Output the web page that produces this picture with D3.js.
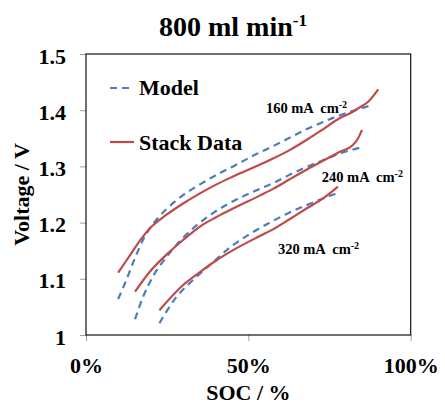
<!DOCTYPE html>
<html>
<head>
<meta charset="utf-8">
<script src="https://cdn.jsdelivr.net/npm/d3@7"></script>
<style>
  body { margin: 0; background: #fff; }
  svg text { font-family: "Liberation Serif", "Times New Roman", serif; font-weight: bold; fill: #000; }
</style>
</head>
<body>
<svg id="chart"></svg>
<script>
// Chart size
const width = 445;
const height = 405;

// SOC (%) and voltage (V)
const soc160Stack = [9.9, 12.5, 14.6, 17.1, 19.7, 24.8, 29.9, 35.1, 40.2, 45.3, 53.5, 57.6, 62.7, 67.9, 73.0, 78.2, 81.2, 84.0, 86.9, 90.0];
const v160Stack   = [1.111, 1.133, 1.151, 1.172, 1.190, 1.214, 1.234, 1.252, 1.268, 1.282, 1.303, 1.314, 1.329, 1.347, 1.366, 1.386, 1.394, 1.404, 1.415, 1.437];
const soc160Model = [9.9, 12.0, 14.6, 17.6, 20.7, 24.8, 29.9, 35.1, 40.2, 45.3, 52.5, 57.6, 62.7, 67.9, 73.0, 78.2, 83.0, 87.9];
const v160Model   = [1.064, 1.092, 1.130, 1.170, 1.198, 1.224, 1.249, 1.268, 1.285, 1.300, 1.322, 1.336, 1.351, 1.366, 1.379, 1.391, 1.400, 1.409];

const soc240Stack = [15.1, 19.7, 24.8, 29.9, 35.1, 40.2, 45.3, 53.5, 57.6, 62.7, 67.9, 73.0, 78.2, 82.2, 83.8, 85.0];
const v240Stack   = [1.077, 1.113, 1.143, 1.169, 1.193, 1.210, 1.225, 1.248, 1.260, 1.277, 1.294, 1.310, 1.326, 1.338, 1.350, 1.365];
const soc240Model = [15.1, 17.6, 20.7, 24.8, 29.9, 35.1, 40.2, 45.3, 53.5, 57.6, 62.7, 67.9, 73.0, 78.2, 84.8];
const v240Model   = [1.028, 1.068, 1.105, 1.139, 1.173, 1.200, 1.221, 1.238, 1.260, 1.270, 1.285, 1.299, 1.311, 1.323, 1.334];

const soc320Stack = [22.6, 29.9, 35.1, 40.2, 45.3, 53.5, 57.6, 62.7, 67.9, 73.0, 77.6];
const v320Stack   = [1.044, 1.089, 1.112, 1.133, 1.151, 1.176, 1.188, 1.206, 1.225, 1.243, 1.264];
const soc320Model = [22.6, 27.9, 33.0, 39.2, 45.3, 50.0, 57.6, 62.7, 67.9, 73.0, 77.6];
const v320Model   = [1.021, 1.068, 1.098, 1.130, 1.160, 1.178, 1.203, 1.218, 1.231, 1.243, 1.253];

// Axis ticks
const xTicks = [0, 50, 100];
const xTickLabels = ["0%", "50%", "100%"];
const yTicks = [1.0, 1.1, 1.2, 1.3, 1.4, 1.5];
const yTickLabels = ["1", "1.1", "1.2", "1.3", "1.4", "1.5"];

// Current density labels
const densities = ["160", "240", "320"];
const labelSoc = [55.4, 72.6, 59.1];
const labelV = [1.395, 1.272, 1.144];

const blue = "#4a7ebb";
const red = "#be4b48";
const serif = '"Liberation Serif", "Times New Roman", serif';

const svg = d3.select("#chart")
  .attr("width", width)
  .attr("height", height)
  .style("font-family", serif);

// Plot area
const x = d3.scaleLinear().domain([0, 100]).range([86, 410.7]);
const y = d3.scaleLinear().domain([1.0, 1.5]).range([335, 54]);

// Axes
const xAxis = svg.append("g")
  .attr("transform", `translate(0,${y(1.0)})`)
  .call(d3.axisBottom(x)
    .tickValues(xTicks)
    .tickFormat((d, i) => xTickLabels[i])
    .tickSize(6)
    .tickPadding(16));

const yAxis = svg.append("g")
  .attr("transform", `translate(${x(0)},0)`)
  .call(d3.axisLeft(y)
    .tickValues(yTicks)
    .tickFormat((d, i) => yTickLabels[i])
    .tickSize(6)
    .tickPadding(14));

[xAxis, yAxis].forEach(g => {
  g.attr("font-family", serif);
  g.select(".domain").remove();
  g.selectAll(".tick line").attr("stroke", "#a0a0a0");
  g.selectAll(".tick text")
    .style("font-family", serif)
    .style("font-size", "22px")
    .attr("fill", "#000");
});
yAxis.selectAll(".tick text").attr("dy", "0.41em");

// Frame
svg.append("rect")
  .attr("x", x(0))
  .attr("y", y(1.5))
  .attr("width", x(100) - x(0))
  .attr("height", y(1.0) - y(1.5))
  .attr("fill", "none")
  .attr("stroke", "#111")
  .attr("stroke-width", 1.2);

// Curves
const line = d3.line()
  .x(d => x(d[0]))
  .y(d => y(d[1]))
  .curve(d3.curveMonotoneX);

const series = [
  { soc: soc160Model, v: v160Model, model: true },
  { soc: soc240Model, v: v240Model, model: true },
  { soc: soc320Model, v: v320Model, model: true },
  { soc: soc160Stack, v: v160Stack, model: false },
  { soc: soc240Stack, v: v240Stack, model: false },
  { soc: soc320Stack, v: v320Stack, model: false }
];

svg.selectAll(".curve")
  .data(series)
  .enter()
  .append("path")
  .attr("class", "curve")
  .attr("d", s => line(s.soc.map((d, i) => [d, s.v[i]])))
  .attr("fill", "none")
  .attr("stroke", s => s.model ? blue : red)
  .attr("stroke-width", 2.2)
  .attr("stroke-dasharray", s => s.model ? "7,5" : null);

// Legend
const legend = svg.append("g");
legend.append("line")
  .attr("x1", 110).attr("x2", 134).attr("y1", 88).attr("y2", 88)
  .attr("stroke", blue).attr("stroke-width", 2.2).attr("stroke-dasharray", "7,5");
legend.append("text").attr("x", 139).attr("y", 95).style("font-size", "22px").text("Model");
legend.append("line")
  .attr("x1", 110).attr("x2", 134).attr("y1", 142).attr("y2", 142)
  .attr("stroke", red).attr("stroke-width", 2.2);
legend.append("text").attr("x", 139).attr("y", 150).style("font-size", "22px").text("Stack Data");

// Current density labels
densities.forEach((d, i) => {
  const t = svg.append("text")
    .attr("x", x(labelSoc[i]))
    .attr("y", y(labelV[i]))
    .style("font-size", "14.5px")
    .attr("xml:space", "preserve");
  t.append("tspan").text(d + " mA  cm");
  t.append("tspan").attr("dy", -5).style("font-size", "10px").text("-2");
});

// Title
const title = svg.append("text")
  .attr("x", 233)
  .attr("y", 36)
  .attr("text-anchor", "middle")
  .style("font-size", "28px");
title.append("tspan").text("800 ml min");
title.append("tspan").attr("dy", -10).style("font-size", "17px").text("-1");

// Axis titles
svg.append("text")
  .attr("x", x(50))
  .attr("y", 400)
  .attr("text-anchor", "middle")
  .style("font-size", "22px")
  .text("SOC / %");

svg.append("text")
  .attr("transform", `translate(29,${(y(1.0) + y(1.5)) / 2}) rotate(-90)`)
  .attr("text-anchor", "middle")
  .style("font-size", "22px")
  .text("Voltage / V");
</script>
</body>
</html>
